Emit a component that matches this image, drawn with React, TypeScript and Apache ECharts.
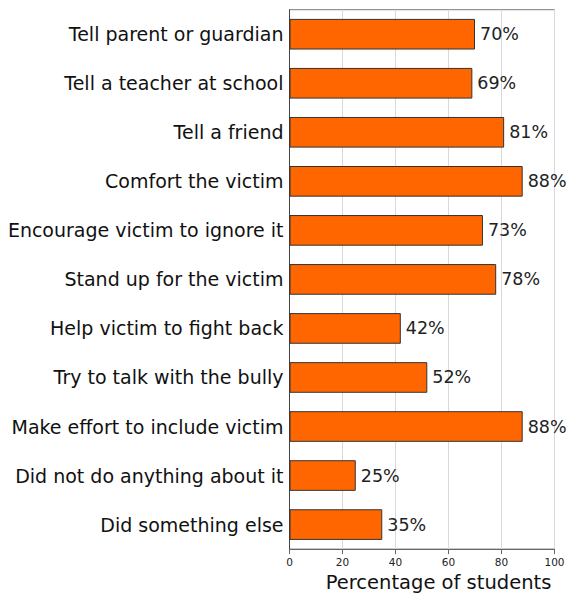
import React, { useEffect, useRef } from "react";
import * as echarts from "echarts";

const categories = [
  "Tell parent or guardian",
  "Tell a teacher at school",
  "Tell a friend",
  "Comfort the victim",
  "Encourage victim to ignore it",
  "Stand up for the victim",
  "Help victim to fight back",
  "Try to talk with the bully",
  "Make effort to include victim",
  "Did not do anything about it",
  "Did something else",
];

const percentages = [70, 69, 81, 88, 73, 78, 42, 52, 88, 25, 35];

const xTicks = [0, 20, 40, 60, 80, 100];

const FONT = "DejaVu Sans";

export default function App() {
  const ref = useRef<HTMLDivElement>(null);

  useEffect(() => {
    document.body.style.margin = "0";
    if (!ref.current) return;
    const chart = echarts.init(ref.current, null, { renderer: "svg" });
    chart.setOption({
      animation: false,
      backgroundColor: "#ffffff",
      grid: {
        left: 289.5,
        right: 13.5,
        top: 9.7,
        bottom: 41.3,
        show: true,
        borderColor: "#7a7a7a",
        borderWidth: 1,
        backgroundColor: "transparent",
      },
      xAxis: {
        type: "value",
        min: xTicks[0],
        max: xTicks[xTicks.length - 1],
        interval: 20,
        name: "Percentage of students",
        nameLocation: "middle",
        nameGap: 21,
        nameTextStyle: {
          fontFamily: FONT,
          fontSize: 19.5,
          color: "#111",
          padding: [0, 0, 0, 33],
        },
        axisLine: { show: true, lineStyle: { color: "#666", width: 1 } },
        axisTick: { show: true, length: 5, lineStyle: { color: "#666" } },
        axisLabel: {
          fontFamily: FONT,
          fontSize: 10.5,
          color: "#222",
          margin: 7,
          formatter: (v: number) => (xTicks.includes(v) ? String(v) : ""),
        },
        splitLine: { show: true, lineStyle: { color: "#d9d9d9", width: 1 } },
      },
      yAxis: {
        type: "category",
        data: categories,
        inverse: true,
        axisLine: { show: true, lineStyle: { color: "#444", width: 1 } },
        axisTick: { show: false },
        axisLabel: {
          fontFamily: FONT,
          fontSize: 19,
          color: "#111",
          margin: 6,
        },
        splitLine: { show: false },
      },
      series: [
        {
          type: "bar",
          data: percentages,
          barWidth: "62.5%",
          itemStyle: {
            color: "#ff6600",
            borderColor: "#333",
            borderWidth: 1,
          },
          label: {
            show: true,
            position: "right",
            distance: 5,
            formatter: "{c}%",
            fontFamily: FONT,
            fontSize: 17.5,
            color: "#222",
          },
        },
      ],
    });
    return () => chart.dispose();
  }, []);

  return <div ref={ref} style={{ width: 568, height: 597 }} />;
}
